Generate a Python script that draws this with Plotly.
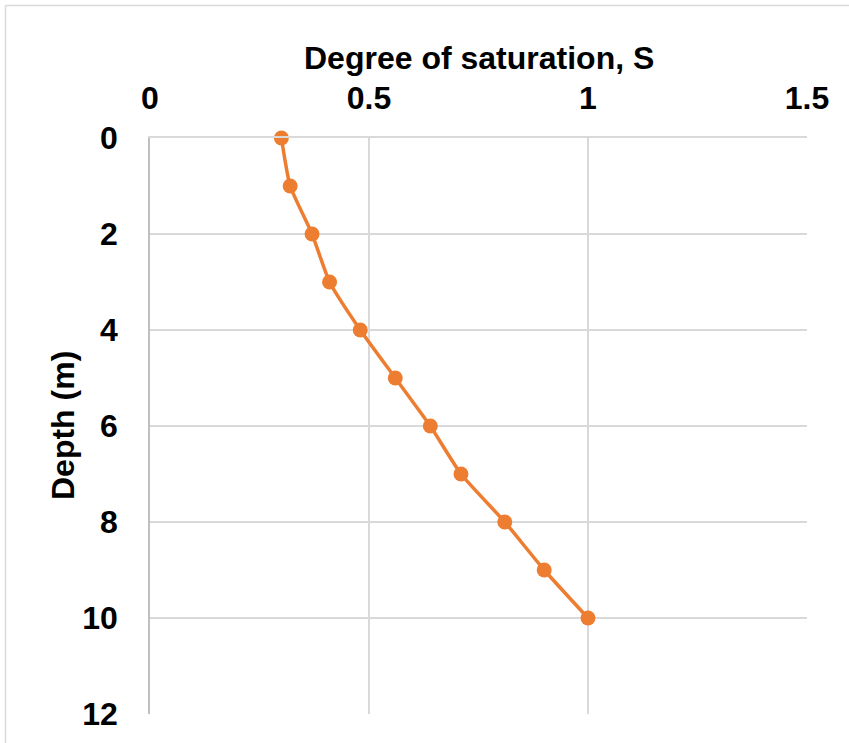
import plotly.graph_objects as go

# Degree of saturation profile with depth
depth_m = [0, 1, 2, 3, 4, 5, 6, 7, 8, 9, 10]
saturation = [0.30, 0.32, 0.37, 0.41, 0.48, 0.56, 0.64, 0.71, 0.81, 0.90, 1.00]

x_ticks = [0, 0.5, 1, 1.5]
x_tick_text = ["0", "0.5", "1", "1.5"]
y_ticks = [0, 2, 4, 6, 8, 10, 12]

W, H = 849, 743
L, R, T, B = 150, 42, 138, 29
plot_w = W - L - R
plot_h = H - T - B

FONT = "Liberation Sans, Arial, sans-serif"
ORANGE = "#ED7D31"
GRID = "#d9d9d9"
FS = 32

fig = go.Figure()
fig.add_trace(go.Scatter(
    x=saturation, y=depth_m,
    mode="lines+markers",
    line=dict(color=ORANGE, width=3.5, shape="spline", smoothing=0.5),
    marker=dict(color=ORANGE, size=15),
    showlegend=False,
    cliponaxis=False,
))

fig.update_layout(
    width=W, height=H,
    margin=dict(l=L, r=R, t=T, b=B),
    paper_bgcolor="white", plot_bgcolor="white",
    font=dict(family=FONT, color="black"),
    xaxis=dict(
        side="top", range=[0, 1.5], tickvals=x_ticks, ticktext=x_tick_text,
        showgrid=True, gridcolor=GRID, gridwidth=1.5, zeroline=False,
        showline=True, linecolor=GRID, linewidth=1.5,
        tickfont=dict(size=FS, family=FONT, weight="bold"),
        ticklabelstandoff=14,
    ),
    yaxis=dict(
        range=[12, 0], tickvals=y_ticks,
        showgrid=True, gridcolor=GRID, gridwidth=1.5, zeroline=False,
        showline=True, linecolor="#bfbfbf", linewidth=1.5,
        tickfont=dict(size=FS, family=FONT, weight="bold"),
        ticklabelstandoff=24,
    ),
)

# Axis titles
fig.add_annotation(
    x=0.5, y=(H - 58 - B) / plot_h, xref="paper", yref="paper",
    text="<b>Degree of saturation, S</b>", showarrow=False,
    font=dict(size=FS, family=FONT, color="black"),
    xanchor="center", yanchor="middle",
)
fig.add_annotation(
    x=(63 - L) / plot_w, y=0.5, xref="paper", yref="paper",
    text="<b>Depth (m)</b>", showarrow=False, textangle=-90,
    font=dict(size=FS, family=FONT, color="black"),
    xanchor="center", yanchor="middle",
)

# Outer chart frame
fx0 = (5.5 - L) / plot_w
fy1 = (H - B - 5.5) / plot_h
fig.add_shape(type="line", xref="paper", yref="paper",
              x0=fx0, x1=fx0, y0=-0.2, y1=fy1,
              line=dict(color=GRID, width=1.5))
fig.add_shape(type="line", xref="paper", yref="paper",
              x0=fx0, x1=1.2, y0=fy1, y1=fy1,
              line=dict(color=GRID, width=1.5))

fig.write_html("out.html")
